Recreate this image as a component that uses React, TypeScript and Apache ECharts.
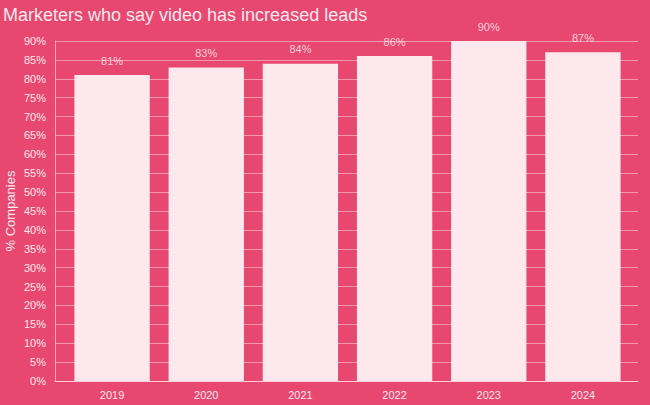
import * as echarts from 'echarts';
import { useEffect, useRef } from 'react';

const years = ['2019', '2020', '2021', '2022', '2023', '2024'];
const leadsPct = [81, 83, 84, 86, 90, 87];

const BG = '#E8476F';
const LIGHT = '#FDE8EE';

export default function App() {
  const chartRef = useRef<HTMLDivElement>(null);

  useEffect(() => {
    if (!chartRef.current) return;
    const chart = echarts.init(chartRef.current, undefined, { renderer: 'svg' });
    const font = '"Liberation Sans", Arial, sans-serif';

    chart.setOption({
      animation: false,
      backgroundColor: BG,
      textStyle: { fontFamily: font },
      title: {
        text: 'Marketers who say video has increased leads',
        left: 3,
        top: 6,
        padding: 0,
        textStyle: { color: LIGHT, fontSize: 18, fontWeight: 'normal', fontFamily: font },
      },
      grid: [
        // frame: gridlines, y ticks, baseline
        { top: 41, right: 12, bottom: 24, left: 55, outerBoundsMode: 'none' },
        // bars sit inside with some padding
        { top: 41, right: 20, bottom: 24, left: 65, outerBoundsMode: 'none' },
      ],
      xAxis: [
        {
          type: 'category',
          gridIndex: 0,
          data: [''],
          axisLine: { lineStyle: { color: 'rgba(253,232,238,0.7)' } },
          axisTick: { show: false },
          axisLabel: { show: false },
        },
        {
          type: 'category',
          gridIndex: 1,
          data: years,
          axisLine: { show: false },
          axisTick: { show: false },
          axisLabel: { color: LIGHT, fontSize: 11, margin: 8 },
        },
      ],
      yAxis: [
        {
          type: 'value',
          gridIndex: 0,
          min: 0,
          max: 90,
          interval: 5,
          name: '% Companies',
          nameLocation: 'middle',
          nameGap: 38,
          nameMoveOverlap: false,
          nameTextStyle: { color: LIGHT, fontSize: 13 },
          axisLine: { show: true, lineStyle: { color: 'rgba(253,232,238,0.6)' } },
          axisTick: { show: false },
          axisLabel: { color: LIGHT, fontSize: 11, margin: 9, formatter: '{value}%' },
          splitLine: { lineStyle: { color: 'rgba(253,232,238,0.5)', width: 1 } },
        },
        {
          type: 'value',
          gridIndex: 1,
          min: 0,
          max: 90,
          interval: 5,
          axisLine: { show: false },
          axisTick: { show: false },
          axisLabel: { show: false },
          splitLine: { show: false },
        },
      ],
      series: [
        {
          type: 'bar',
          xAxisIndex: 1,
          yAxisIndex: 1,
          data: leadsPct,
          barCategoryGap: '20%',
          itemStyle: { color: LIGHT },
          label: {
            show: true,
            position: 'top',
            distance: 9,
            formatter: '{c}%',
            color: 'rgba(253,232,238,0.85)',
            fontSize: 11,
          },
        },
      ],
    });

    return () => chart.dispose();
  }, []);

  return <div ref={chartRef} style={{ width: 650, height: 405, position: 'absolute', left: 0, top: 0 }} />;
}
